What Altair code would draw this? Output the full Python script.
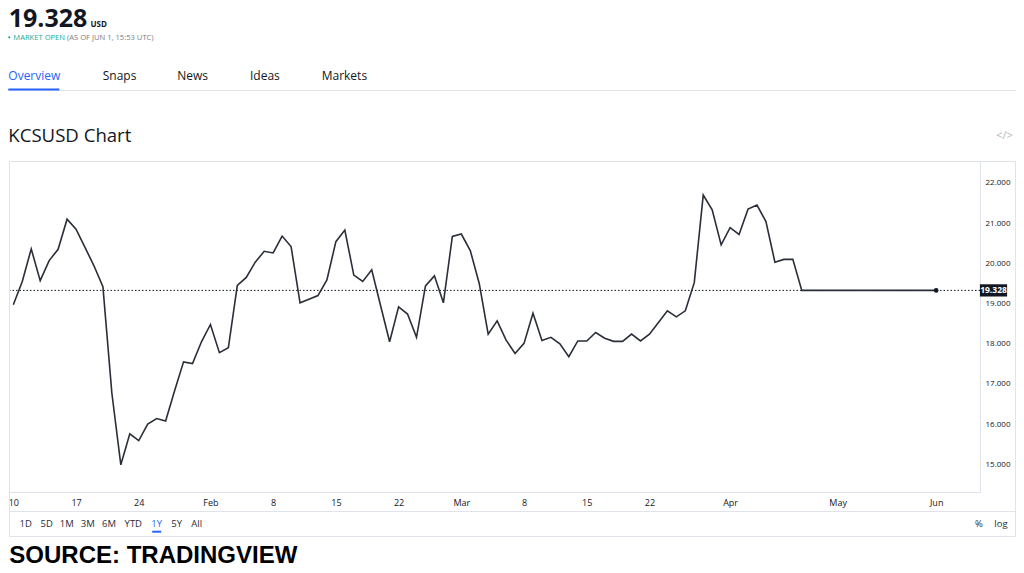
import altair as alt
import pandas as pd

# ---------------- data ----------------
# daily closes, bar 0 = Jan 10
daily_values = [
    18.97, 19.55, 20.36, 19.57, 20.07, 20.35, 21.10, 20.85, 20.40, 19.94,
    19.42, 16.77, 14.99, 15.76, 15.59, 16.00, 16.14, 16.08, 16.83, 17.55,
    17.51, 18.05, 18.48, 17.78, 17.90, 19.45, 19.65, 20.03, 20.30, 20.26,
    20.68, 20.42, 19.02, 19.11, 19.20, 19.59, 20.54, 20.83, 19.71, 19.55,
    19.84, 18.94, 18.05, 18.92, 18.74, 18.16, 19.44, 19.69, 19.02, 20.67,
    20.73, 20.32, 19.50, 18.24, 18.57, 18.09, 17.76, 18.01, 18.76, 18.08,
    18.16, 18.00, 17.68, 18.07, 18.07, 18.28, 18.14, 18.06, 18.06, 18.24,
    18.07, 18.24, 18.53, 18.82, 18.67, 18.82, 19.52, 21.70, 21.33, 20.46,
    20.89, 20.72, 21.35, 21.45, 21.04, 20.03, 20.10, 20.10, 19.328,
]
last_bar = 103
last_price = 19.328

tick_bars = [0, 7, 14, 22, 29, 36, 43, 50, 57, 64, 71, 80, 92, 103]
tick_labels = ["10", "17", "24", "Feb", "8", "15", "22", "Mar", "8", "15", "22", "Apr", "May", "Jun"]
y_ticks = [15, 16, 17, 18, 19, 20, 21, 22]

tabs = ["Overview", "Snaps", "News", "Ideas", "Markets"]
ranges = ["1D", "5D", "1M", "3M", "6M", "YTD", "1Y", "5Y", "All"]

# ---------------- tables ----------------
bars = list(range(len(daily_values))) + [last_bar]
prices = daily_values + [last_price]
df = pd.DataFrame({"bar": bars, "price": prices})
last_df = pd.DataFrame({"bar": [last_bar], "price": [last_price]})
one = pd.DataFrame({"k": [0]})

W, H = 970, 330
FONT = "Open Sans"
DARK = "#131722"
GRID = "#e0e3eb"
BLUE = "#2962ff"

label_expr = (
    "[" + ",".join(f"'{l}'" for l in tick_labels) + "]"
    + "[indexof([" + ",".join(str(b) for b in tick_bars) + "], datum.value)]"
)

x_scale = alt.Scale(domain=[-0.37, 107.89], nice=False, zero=False)
y_scale = alt.Scale(domain=[14.313, 22.522], nice=False, zero=False)

x_enc = alt.X("bar:Q", scale=x_scale,
              axis=alt.Axis(values=tick_bars, labelExpr=label_expr, title=None,
                            grid=False, domain=False, ticks=False, tickSize=0,
                            labelPadding=10, labelBaseline="middle",
                            labelFontSize=9, labelFont=FONT, labelColor=DARK,
                            labelFlush=False, labelOverlap=False))
y_enc = alt.Y("price:Q", scale=y_scale,
              axis=alt.Axis(orient="right", values=y_ticks, format=".3f", title=None,
                            grid=False, domain=False, ticks=False, tickSize=0,
                            labelPadding=5, labelFontSize=8, labelFont=FONT,
                            labelColor=DARK, labelOverlap=False))

line = alt.Chart(df).mark_line(color="#2a2e39", strokeWidth=1.6).encode(x=x_enc, y=y_enc)

price_rule = alt.Chart(one).mark_rule(color=DARK, strokeDash=[1.5, 2], strokeWidth=1).encode(
    y=alt.datum(last_price, scale=y_scale))

last_dot = alt.Chart(last_df).mark_circle(color=DARK, size=22, opacity=1).encode(
    x=alt.X("bar:Q", scale=x_scale), y=alt.Y("price:Q", scale=y_scale))

box_shape = "M-1,-0.45L1,-0.45L1,0.45L-1,0.45Z"
price_box = alt.Chart(one).mark_point(shape=box_shape, filled=True, color=DARK,
                                      size=740, opacity=1).encode(
    x=alt.value(983.5), y=alt.datum(last_price, scale=y_scale))
price_txt = alt.Chart(one).mark_text(text=f"{last_price:.3f}", color="white", fontSize=8.5,
                                     fontWeight="bold", font=FONT, align="center",
                                     baseline="middle").encode(
    x=alt.value(983.5), y=alt.datum(last_price, scale=y_scale))


def txt(s, x, y, size, color=DARK, weight="normal", align="left", baseline="alphabetic", font=FONT):
    return alt.Chart(one).mark_text(text=s, fontSize=size, color=color, fontWeight=weight,
                                    align=align, baseline=baseline, font=font).encode(
        x=alt.value(x), y=alt.value(y))


def hline(x1, x2, y, color=GRID, w=1):
    return alt.Chart(one).mark_rule(color=color, strokeWidth=w).encode(
        x=alt.value(x1), x2=alt.value(x2), y=alt.value(y))


def vline(x, y1, y2, color=GRID, w=1):
    return alt.Chart(one).mark_rule(color=color, strokeWidth=w).encode(
        x=alt.value(x), y=alt.value(y1), y2=alt.value(y2))


deco = [
    # frame
    hline(-0.5, 1005.5, -0.5), hline(-0.5, 1005.5, 374.5), hline(-0.5, 1005.5, 349.5),
    vline(-0.5, -0.5, 374.5), vline(1005.5, -0.5, 374.5),
    vline(970.5, -0.5, 330.5), hline(-0.5, 970.5, 330.5),
    # header
    txt("19.328", -1.3, -135.3, 25, weight="bold"),
    txt("USD", 80.5, -135.3, 8, weight="bold"),
    txt("MARKET OPEN", 3.3, -122.2, 7.6, color="#22ab94"),
    txt("(AS OF JUN 1, 15:53 UTC)", 57, -122.2, 7.6, color="#787b86"),
    hline(-2, 1006, -71.5),
    hline(-1.7, 49.3, -72.5, color=BLUE, w=2),
    txt("KCSUSD Chart", -1.7, -20.3, 18.6),
    txt("</>", 994.5, -26, 11, color="#b2b5be", align="center", baseline="middle"),
    # bottom toolbar
    txt("%", 969, 362.3, 9.5, color="#2a2e39", align="center", baseline="middle"),
    txt("log", 991, 362.3, 9.5, color="#2a2e39", align="center", baseline="middle"),
    hline(142.2, 151.2, 369.7, color=BLUE, w=2),
    txt("SOURCE: TRADINGVIEW", -0.7, 401.3, 24, color="black", weight="bold",
        font="Liberation Sans"),
]
dot = alt.Chart(one).mark_circle(color="#22ab94", size=5, opacity=1).encode(
    x=alt.value(-0.7), y=alt.value(-124.7))
deco.append(dot)

tab_x = [-1.7, 92.7, 167.3, 240, 311.7]
for name, xx in zip(tabs, tab_x):
    deco.append(txt(name, xx, -82, 12, color=BLUE if name == "Overview" else DARK))

range_x = [15.7, 36.7, 56.7, 77.7, 99, 123.3, 146.7, 166.7, 186.7]
for name, xx in zip(ranges, range_x):
    deco.append(txt(name, xx, 362.3, 9.5, color=BLUE if name == "1Y" else "#2a2e39",
                    align="center", baseline="middle"))

chart = alt.layer(
    *deco, price_rule, line, last_dot, price_box, price_txt
).properties(
    width=W, height=H,
    autosize=alt.AutoSizeParams(type="none"),
    padding={"left": 2, "top": 154, "right": 36, "bottom": 76},
    background="white",
).configure_view(stroke=None)

chart.save("out.html", embed_options={"renderer": "svg", "actions": False})
